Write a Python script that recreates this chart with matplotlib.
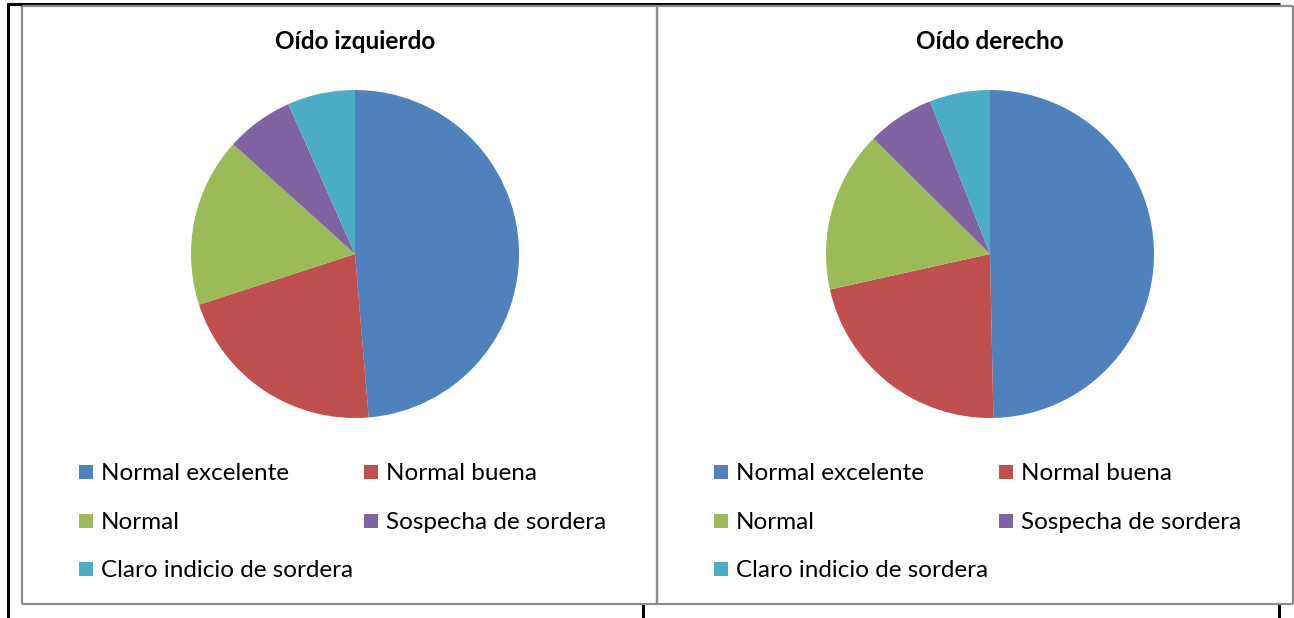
import matplotlib.pyplot as plt
from matplotlib.lines import Line2D
from matplotlib.patches import Rectangle

# data
categories = ['Normal excelente', 'Normal buena', 'Normal',
              'Sospecha de sordera', 'Claro indicio de sordera']
izquierdo = [73, 32, 25, 10, 10]
derecho = [75, 33, 24, 10, 9]
titles = ['Oído izquierdo', 'Oído derecho']
colors = ['#4F81BD', '#C0504D', '#9BBB59', '#8064A2', '#4BACC6']

W, H = 1294, 618
plt.rcParams['font.family'] = ['Lato', 'DejaVu Sans']

fig = plt.figure(figsize=(W / 100, H / 100), dpi=100)


def fx(x):
    return x / W


def fy(y):
    return 1 - y / H


def line(x0, y0, x1, y1, color, lw):
    fig.add_artist(Line2D([fx(x0), fx(x1)], [fy(y0), fy(y1)], color=color,
                          lw=lw, solid_capstyle='butt'))


# table lines (black) behind the charts
line(7, 3.5, 1280, 3.5, 'black', 2.2)
line(8, 3, 8, 618, 'black', 2.2)
line(643, 604, 643, 618, 'black', 2.2)
line(1279, 604, 1279, 618, 'black', 2.2)

# chart borders (grey)
gray = '#8C8C8C'
for left, right in [(21.5, 657), (657, 1293)]:
    line(left, 5.5, right, 5.5, gray, 1.6)
    line(left, 603.5, right, 603.5, gray, 1.6)
    line(left, 5.5, left, 603.5, gray, 1.6)
    line(right, 5.5, right, 603.5, gray, 1.6)

panels = [(355, izquierdo, titles[0]), (990, derecho, titles[1])]
r = 164
cy = 254
for cx, vals, title in panels:
    ax = fig.add_axes([fx(cx - r), fy(cy + r), 2 * r / W, 2 * r / H])
    ax.pie(vals, colors=colors, startangle=90, counterclock=False,
           wedgeprops=dict(linewidth=0))
    ax.set_xlim(-1, 1)
    ax.set_ylim(-1, 1)
    ax.set_aspect('equal')
    ax.axis('off')
    fig.text(fx(cx), fy(49), title, ha='center', va='baseline',
             fontsize=17.5, fontweight='bold')

    # legend
    off = cx - 355
    col_x = [79 + off, 364 + off]
    row_y = [465, 514, 562]
    for i, (cat, col) in enumerate(zip(categories, colors)):
        x = col_x[i % 2]
        y = row_y[i // 2]
        fig.add_artist(Rectangle((fx(x), fy(y + 14)), 14 / W, 14 / H,
                                 facecolor=col, edgecolor='none'))
        fig.text(fx(x + 22), fy(y + 15), cat, ha='left', va='baseline',
                 fontsize=17.5)

fig.savefig('out.png', dpi=100)
